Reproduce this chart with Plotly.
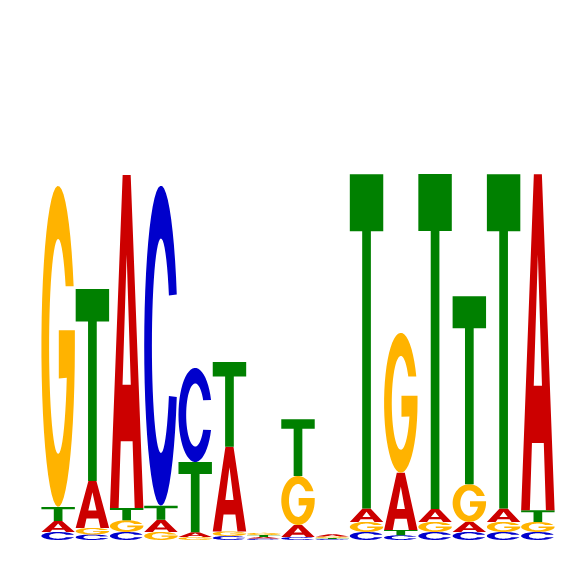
import math
import plotly.graph_objects as go

# ---- data (information content, bits) ----
positions = list(range(1, 16))
bits_A = [0.060, 0.257, 1.820, 0.066, 0.027, 0.462, 0.009, 0.066, 0.012, 0.073, 0.313, 0.071, 0.055, 0.073, 1.836]
bits_C = [0.044, 0.030, 0.044, 1.749, 0.514, 0.022, 0.008, 0.016, 0.005, 0.044, 0.026, 0.044, 0.044, 0.044, 0.044]
bits_G = [1.754, 0.036, 0.064, 0.044, 0.016, 0.025, 0.012, 0.268, 0.008, 0.055, 0.765, 0.055, 0.206, 0.055, 0.055]
bits_T = [0.077, 1.049, 0.067, 0.077, 0.383, 0.464, 0.010, 0.310, 0.006, 1.826, 0.028, 1.830, 1.027, 1.826, 0.064]
letters = ["A", "C", "G", "T"]
colors = {"A": "#CC0000", "C": "#0000CC", "G": "#FFB300", "T": "#008000"}
y_max = 2.0

# ---- unit glyph outlines (x right, y up, in [0,1]) ----
def arc(cx, cy, rx, ry, a0, a1, n=48):
    pts = []
    for k in range(n + 1):
        a = math.radians(a0 + (a1 - a0) * k / n)
        pts.append((cx + rx * math.cos(a), cy + ry * math.sin(a)))
    return pts

def glyph(letter):
    if letter == "A":
        outer = [(0, 0), (0.26, 0), (0.323, 0.2), (0.677, 0.2), (0.74, 0), (1, 0), (0.62, 1), (0.38, 1)]
        hole = [(0.377, 0.37), (0.5, 0.76), (0.623, 0.37)]
        return [outer, hole]
    if letter == "T":
        return [[(0, 1), (0, 0.83), (0.37, 0.83), (0.37, 0), (0.63, 0), (0.63, 0.83), (1, 0.83), (1, 1)]]
    rx_i, ry_i = 0.27, 0.335
    if letter == "C":
        pts = arc(0.5, 0.5, 0.5, 0.5, 18.7, 341.3)
        pts += arc(0.5, 0.5, rx_i, ry_i, 332, 28)
        return [pts]
    if letter == "G":
        pts = arc(0.5, 0.5, 0.5, 0.5, 22, 360)
        pts += [(1, 0.55), (0.52, 0.55), (0.52, 0.40)]
        pts += arc(0.5, 0.5, rx_i, ry_i, -17, -326)
        return [pts]

def to_path(contours, x0, x1, y0, y1):
    parts = []
    for c in contours:
        seg = []
        for i, (u, v) in enumerate(c):
            X = x0 + u * (x1 - x0)
            Y = y0 + v * (y1 - y0)
            seg.append(("M" if i == 0 else "L") + f"{X:.5f},{Y:.6f}")
        parts.append(" ".join(seg) + " Z")
    return " ".join(parts)

table = {"A": bits_A, "C": bits_C, "G": bits_G, "T": bits_T}
half = 0.488
shapes = []
totals = []
for j, pos in enumerate(positions):
    col = sorted(((table[L][j], L) for L in letters), key=lambda t: t[0])
    base = 0.0
    for h, L in col:
        shapes.append(dict(
            type="path", xref="x", yref="y",
            path=to_path(glyph(L), pos - half, pos + half, base, base + h),
            fillcolor=colors[L], line=dict(width=0), layer="above",
        ))
        base += h
    totals.append(base)

fig = go.Figure()
fig.add_trace(go.Scatter(x=positions, y=totals, mode="markers",
                         marker=dict(opacity=0), hoverinfo="skip", showlegend=False))
fig.update_layout(
    width=566, height=566, autosize=False,
    margin=dict(l=41, r=11, t=174, b=26, pad=0),
    plot_bgcolor="white", paper_bgcolor="white",
    shapes=shapes, showlegend=False,
    xaxis=dict(range=[0.5, 15.5], visible=False, fixedrange=True),
    yaxis=dict(range=[0, y_max], visible=False, fixedrange=True),
)
fig.write_html("out.html")
